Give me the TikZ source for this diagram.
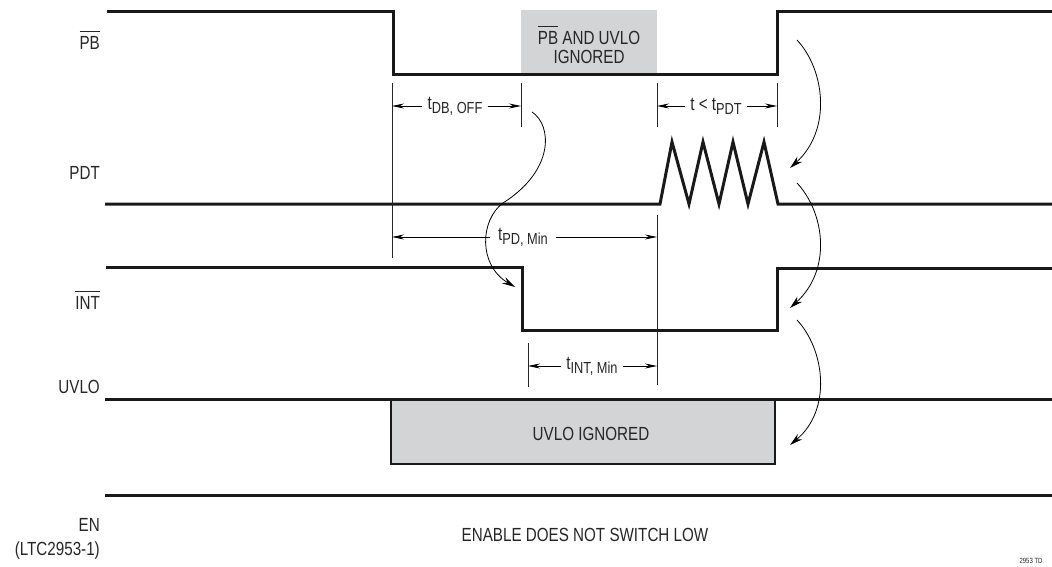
\documentclass[tikz,border=0pt]{standalone}
\usepackage{fontspec}
\setmainfont{Liberation Sans}[FakeStretch=0.8]
\usetikzlibrary{arrows.meta}
\definecolor{ig}{HTML}{D3D4D5}
\newcommand{\ovl}[1]{\setbox0\hbox{#1}\rlap{\raisebox{\dimexpr\ht0+4.5pt\relax}{\rule{\wd0}{1.2pt}}}\box0\relax}
\newcommand{\subt}[1]{\raisebox{-4pt}{\fontsize{16}{16}\selectfont #1}}
\tikzset{
  sig/.style={line width=3pt, line join=miter, black!90},
  thinl/.style={line width=1pt, black!85},
  dim/.style={line width=0.9pt, -{Stealth[length=12pt,width=5pt]}},
  curv/.style={line width=0.8pt, -{Stealth[length=13pt,width=7pt]}},
  lbl/.style={font=\fontsize{19}{21}\selectfont, inner sep=0pt, text=black!85},
  dlbl/.style={lbl, inner xsep=5pt},
}
\begin{document}
\begin{tikzpicture}[x=1pt,y=-1pt]
\useasboundingbox (0,0) rectangle (1052,567);
% gray regions
\fill[ig] (521,10) rectangle (657,75);
\filldraw[fill=ig, draw=black!90, line width=2.5pt] (391,399) rectangle (775,464);
% signals
\draw[sig] (107,12) -- (393,12) -- (393,75) -- (777,75) -- (777,12) -- (1052,12);
\draw[sig] (105,204) -- (660,204) -- (672,142) -- (689,204) -- (703,142) -- (719,204) -- (733,142) -- (748,204) -- (764,142) -- (778,204) -- (1052,204);
\draw[sig] (106,267) -- (522,267) -- (522,330) -- (777,330) -- (777,268) -- (1052,268);
\draw[sig] (105,399) -- (1052,399);
\draw[sig] (105,495) -- (1052,495);
% signal labels
\node[lbl, anchor=east] (lpb) at (100,40) {\ovl{PB}};
\node[lbl, anchor=east] (lpdt) at (100,173) {PDT};
\node[lbl, anchor=east] (lint) at (100,300) {\ovl{INT}};
\node[lbl, anchor=east] (luvlo) at (100,387) {UVLO};
\node[lbl, anchor=east] (len) at (100,525) {EN};
\node[lbl, anchor=east] (lltc) at (100,551) {(LTC2953-1)};
% inner texts
\node[lbl] (pbig1) at (589,35) {\ovl{PB} AND UVLO};
\node[lbl] (pbig2) at (589,57) {IGNORED};
\node[lbl] (uvig) at (591,434) {UVLO IGNORED};
\node[lbl] (ensw) at (585,535) {ENABLE DOES NOT SWITCH LOW};
\node[inner sep=0pt, font=\fontsize{7.5}{8}\selectfont, text=black!85] (td) at (1031,561) {2953 TD};
% extension lines
\coordinate (a1) at (392,83); \coordinate (a2) at (392,258);
\coordinate (b1) at (521,83); \coordinate (b2) at (521,127);
\coordinate (c1) at (657,83); \coordinate (c2) at (657,127);
\coordinate (d1) at (777,83); \coordinate (d2) at (777,127);
\coordinate (e1) at (657,215); \coordinate (e2) at (657,385);
\coordinate (f1) at (528,343); \coordinate (f2) at (528,387);
\foreach \p in {a,b,c,d,e,f} \draw[thinl] (\p1) -- (\p2);
% dimension arrows
\node[dlbl] (tdb) at (455,106) {t\subt{DB, OFF}};
\draw[dim] (tdb.west) -- (tdb.west -| a1);
\draw[dim] (tdb.east) -- (tdb.east -| b1);
\node[dlbl] (tpdt) at (716,106) {t < t\subt{PDT}};
\draw[dim] (tpdt.west) -- (tpdt.west -| c1);
\draw[dim] (tpdt.east) -- (tpdt.east -| d1);
\node[lbl, inner xsep=8pt] (tpd) at (523,237) {t\subt{PD, Min}};
\draw[dim] (tpd.west) -- (tpd.west -| a1);
\draw[dim] (tpd.east) -- (tpd.east -| e1);
\node[dlbl] (tint) at (592,366) {t\subt{INT, Min}};
\draw[dim] (tint.west) -- (tint.west -| f1);
\draw[dim] (tint.east) -- (tint.east -| e1);
% curved arrows
\coordinate (s1) at (532,112); \coordinate (m1) at (503,203); \coordinate (t1) at (515,287);
\draw[curv] (s1) .. controls (552,125) and (555,170) .. (m1) .. controls (480,220) and (478,265) .. (t1);
\coordinate (s2) at (797,40); \coordinate (t2) at (790,168);
\draw[curv] (s2) .. controls (825,70) and (832,130) .. (t2);
\coordinate (s3) at (797,183); \coordinate (t3) at (790,308);
\draw[curv] (s3) .. controls (825,213) and (832,270) .. (t3);
\coordinate (s4) at (797,320); \coordinate (t4) at (790,445);
\draw[curv] (s4) .. controls (825,350) and (832,410) .. (t4);
\end{tikzpicture}
\end{document}
